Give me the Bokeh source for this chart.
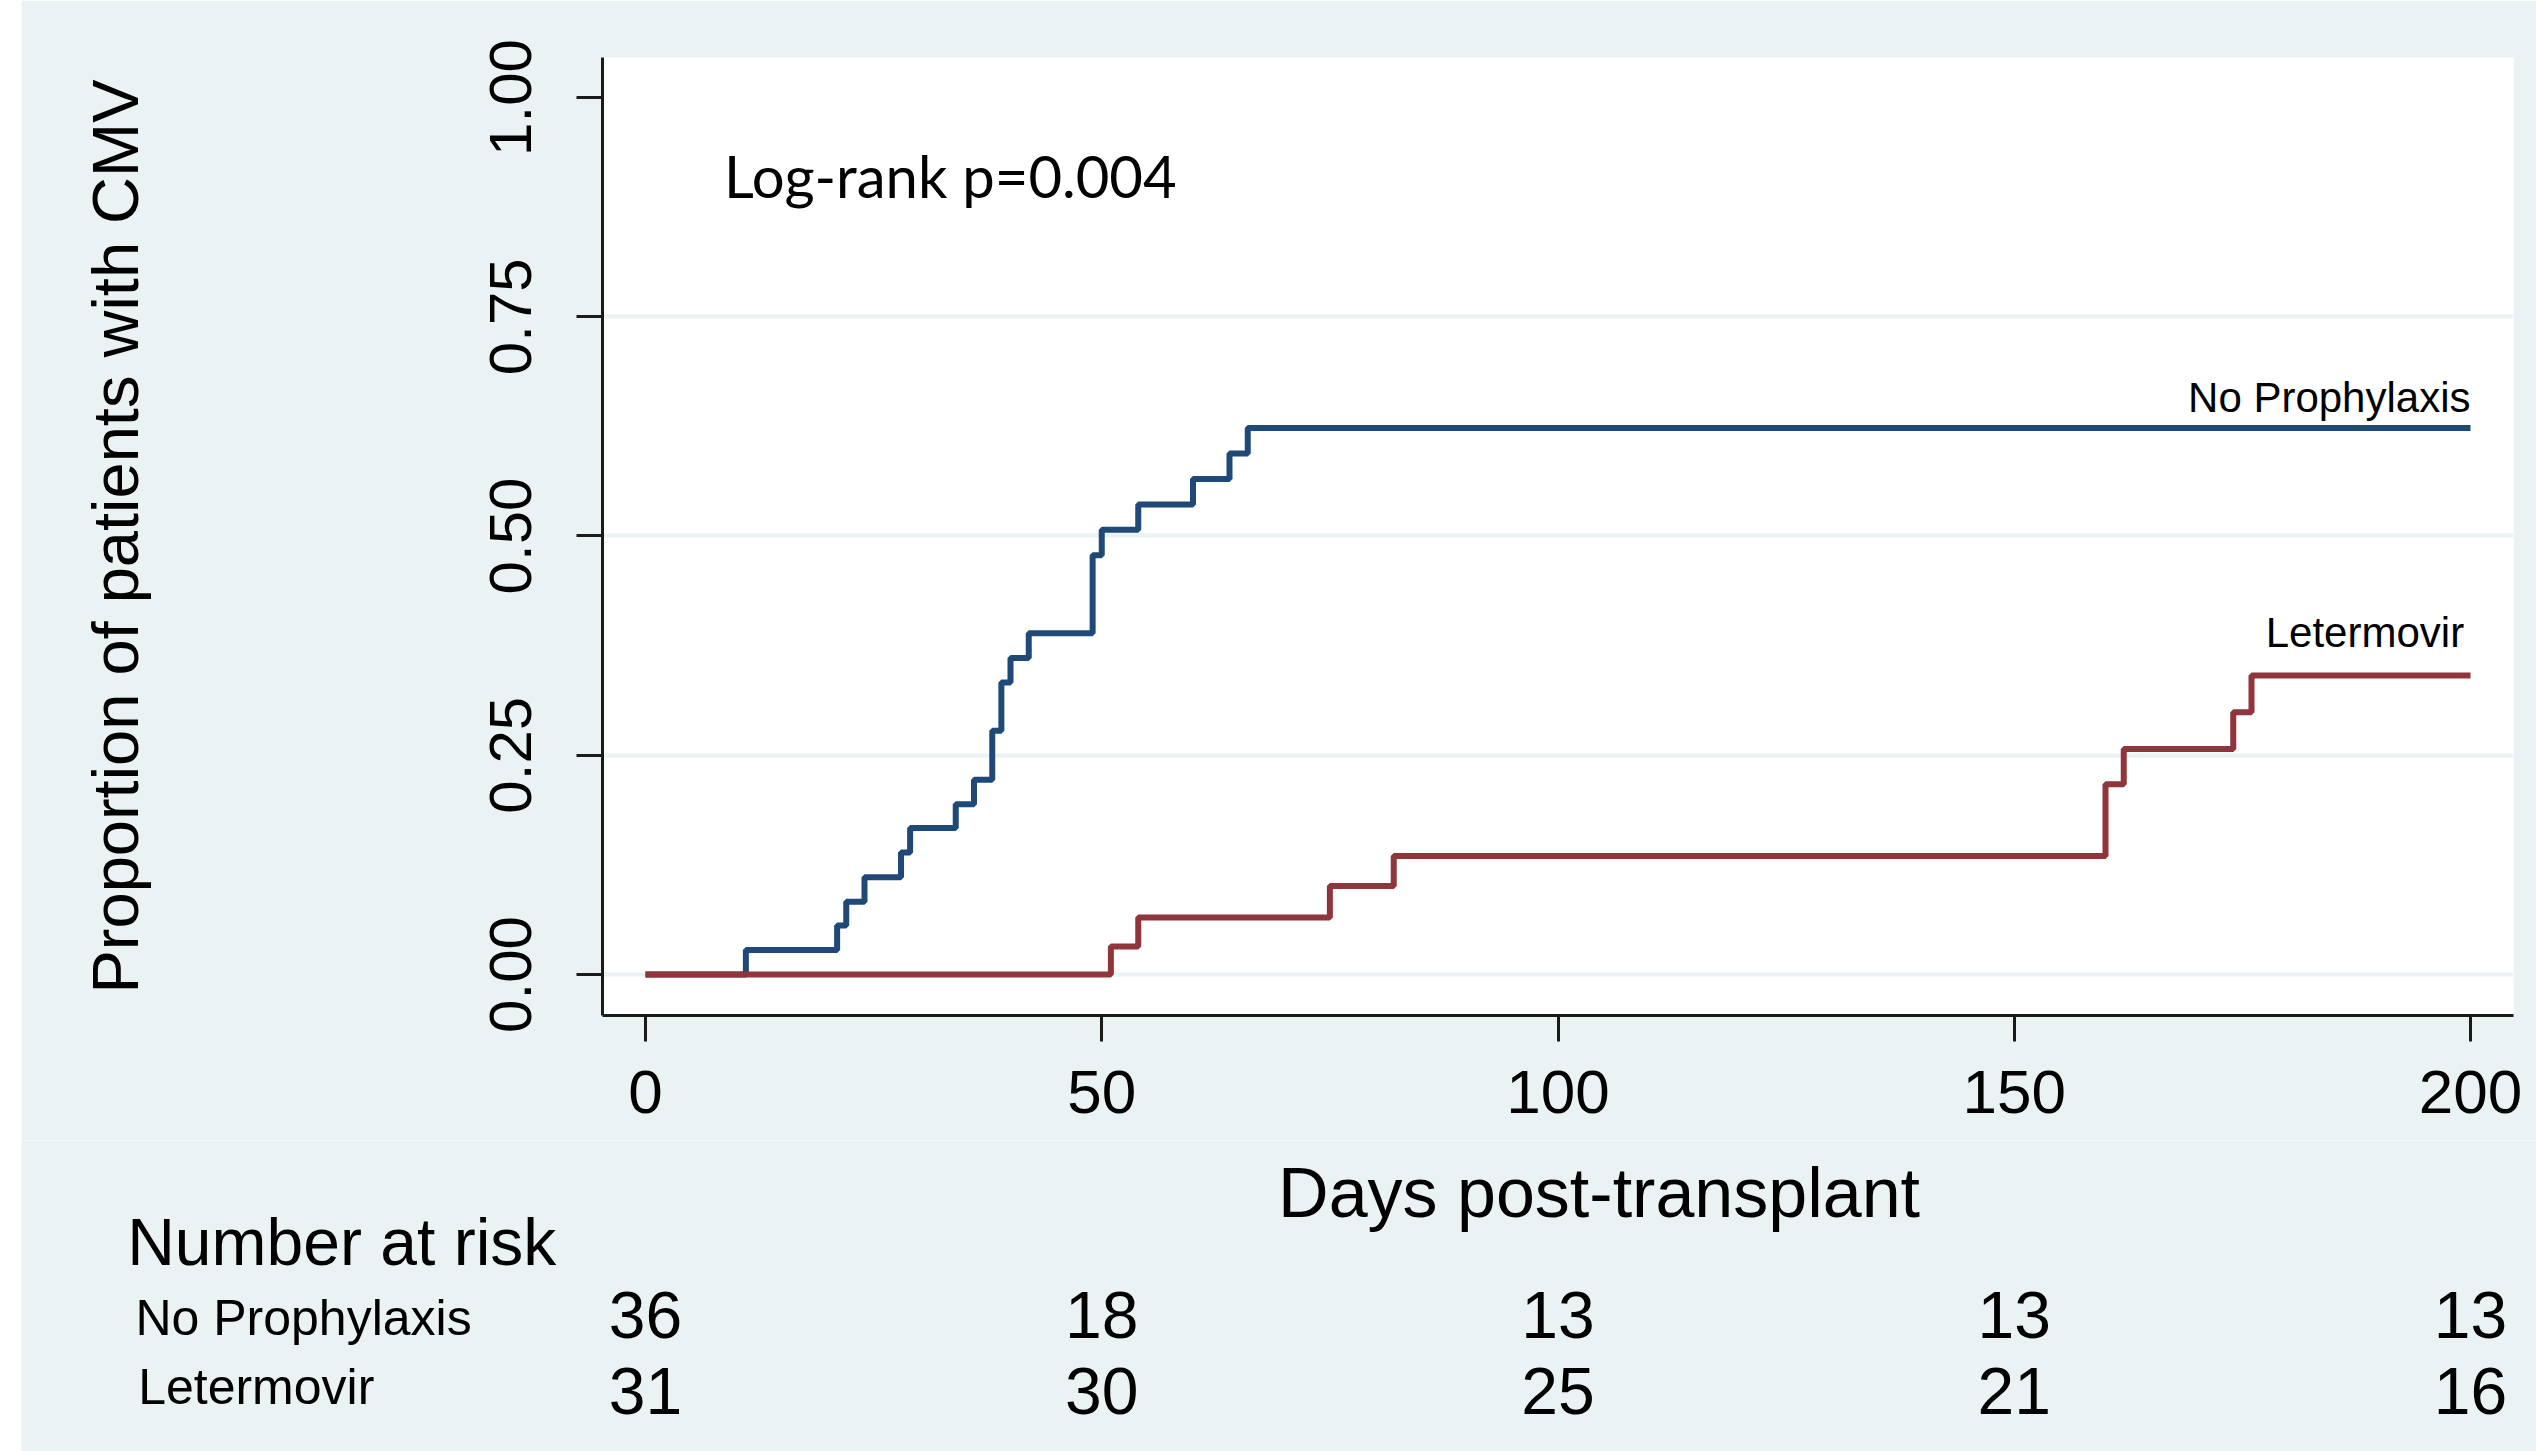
from bokeh.plotting import figure
from bokeh.models import (Range1d, FixedTicker, Label, LabelSet, ColumnDataSource,
                          Spacer, NumeralTickFormatter)
from bokeh.layouts import row, column
from bokeh.embed import file_html
from bokeh.resources import INLINE
from bokeh.core.properties import value

# ---------------- data ----------------
no_proph_days = [0, 11, 21, 22, 24, 28, 29, 34, 36, 38, 39, 40, 42, 49, 50, 54, 60, 64, 66, 200]
no_proph_prop = [0, 0.028, 0.056, 0.083, 0.111, 0.139, 0.167, 0.194, 0.222, 0.278, 0.333,
                 0.361, 0.389, 0.478, 0.507, 0.536, 0.565, 0.594, 0.623, 0.623]

leter_days = [0, 51, 54, 75, 82, 160, 162, 174, 176, 200]
leter_prop = [0, 0.032, 0.065, 0.101, 0.135, 0.217, 0.257, 0.299, 0.341, 0.341]

x_ticks = [0, 50, 100, 150, 200]
y_ticks = [0, 0.25, 0.5, 0.75, 1.0]
grid_ticks = [0, 0.25, 0.5, 0.75]

risk_times = [0, 50, 100, 150, 200]
risk_no_proph = [36, 18, 13, 13, 13]
risk_letermovir = [31, 30, 25, 21, 16]

group_names = ["No Prophylaxis", "Letermovir"]
pvalue_text = "Log-rank p=0.004"
x_title = "Days post-transplant"
y_title = "Proportion of patients with CMV"
risk_title = "Number at risk"

# ---------------- style ----------------
BG = "#EAF2F3"
BLUE = "#1f4a78"
RED = "#90353b"
AX = "#1a1a1a"
FONT = "Liberation Sans"

# ---------------- main plot ----------------
p = figure(width=2515, height=1140, output_backend="svg", toolbar_location=None,
           x_range=Range1d(-4.712, 204.712), y_range=Range1d(-0.04675, 1.0456),
           min_border_left=581, min_border_right=23, min_border_top=57,
           min_border_bottom=125)
p.frame_align = False
p.border_fill_color = BG
p.background_fill_color = "white"
p.outline_line_color = None

for ax in (p.xaxis[0], p.yaxis[0]):
    ax.axis_line_color = AX
    ax.axis_line_width = 3
    ax.major_tick_line_color = AX
    ax.major_tick_line_width = 3
    ax.major_tick_in = 0
    ax.major_tick_out = 26
    ax.minor_tick_line_color = None
    ax.major_label_text_font = FONT
    ax.major_label_text_color = "black"
    ax.axis_label_text_font = FONT
    ax.axis_label_text_font_style = "normal"
    ax.axis_label_text_color = "black"

p.xaxis.ticker = FixedTicker(ticks=x_ticks)
p.xaxis.major_label_text_font_size = "62px"
p.xaxis.major_label_standoff = 29

p.yaxis.ticker = FixedTicker(ticks=y_ticks)
p.yaxis.formatter = NumeralTickFormatter(format="0.00")
p.yaxis.major_label_orientation = "vertical"
p.yaxis.major_label_text_font_size = "60px"
p.yaxis.major_label_standoff = 45
p.yaxis.axis_label = y_title
p.yaxis.axis_label_text_font_size = "65px"
p.yaxis.axis_label_standoff = 336

p.xgrid.visible = False
p.ygrid.ticker = FixedTicker(ticks=grid_ticks)
p.ygrid.grid_line_color = BG
p.ygrid.grid_line_width = 4

p.step(no_proph_days, no_proph_prop, mode="after", line_color=BLUE, line_width=6)
p.step(leter_days, leter_prop, mode="after", line_color=RED, line_width=6)

p.add_layout(Label(x=200, y=0.658, text=group_names[0], text_align="right",
                   text_baseline="alphabetic", text_font=FONT, text_font_size="42px",
                   text_color="black"))
p.add_layout(Label(x=199.3, y=0.390, text=group_names[1], text_align="right",
                   text_baseline="alphabetic", text_font=FONT, text_font_size="42px",
                   text_color="black"))
p.add_layout(Label(x=8.6, y=0.911, text=pvalue_text, text_align="left",
                   text_baseline="alphabetic", text_font="Lato", text_font_size="58px",
                   text_color="black"))

# ---------------- lower panel: axis title + number at risk ----------------
t = figure(width=2515, height=311, output_backend="svg", toolbar_location=None,
           x_range=Range1d(-68.384, 207.233), y_range=Range1d(-0.5439, -0.18928),
           x_axis_type=None, y_axis_type=None, min_border=0)
t.frame_align = False
t.border_fill_color = BG
t.background_fill_color = BG
t.outline_line_color = None
t.grid.visible = False


def add_texts(fig, xs, ys, texts, size, align):
    src = ColumnDataSource(dict(x=xs, y=ys, s=texts))
    fig.add_layout(LabelSet(x="x", y="y", text="s", source=src, text_align=align,
                            text_baseline="alphabetic", text_font=value(FONT),
                            text_font_size=value(size), text_color="black"))


add_texts(t, [104.5], [-0.276], [x_title], "70px", "center")
add_texts(t, [-56.8], [-0.3318], [risk_title], "66px", "left")
add_texts(t, [-55.9, -55.6], [-0.4116, -0.4892], group_names, "50px", "left")
add_texts(t, risk_times, [-0.415] * len(risk_times), [str(v) for v in risk_no_proph],
          "66px", "center")
add_texts(t, risk_times, [-0.5006] * len(risk_times), [str(v) for v in risk_letermovir],
          "66px", "center")

layout = row(Spacer(width=21, height=1451), column(p, t))
open("out.html", "w").write(file_html(layout, INLINE))
